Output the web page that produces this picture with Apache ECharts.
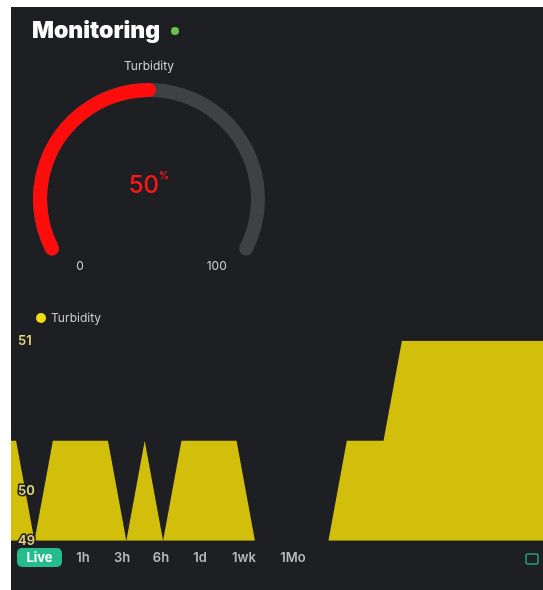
<!DOCTYPE html>
<html>
<head>
<meta charset="utf-8">
<script src="https://cdn.jsdelivr.net/npm/echarts@6/dist/echarts.min.js"></script>
<style>
  html, body { margin: 0; padding: 0; background: #ffffff; width: 543px; height: 590px; overflow: hidden; }
  #chart { position: absolute; left: 11px; top: 7px; width: 532px; height: 583px; }
</style>
</head>
<body>
<div id="chart"></div>
<script>
// ---- data ----
const gaugeName = 'Turbidity';
const gaugeValue = 50;
const gaugeMin = 0;
const gaugeMax = 100;
const seriesName = 'Turbidity';
const sampleIndex = [0,1,2,3,4,5,6,7,8,9,10,11,12,13,14,15,16,17,18,19,20,21,22,23,24,25,26,27,28,29,30];
const turbidityValues = [50,50,49,50,50,50,50,49,50,49,50,50,50,50,49,49,49,49,49,50,50,50,51,51,51,51,51,51,51,51,51];
const yTicks = [49, 50, 51];
const rangeButtons = ['Live', '1h', '3h', '6h', '1d', '1wk', '1Mo'];
const titleText = 'Monitoring';

// ---- layout (not data) ----
const buttonCenters = [28.5, 72, 111, 150, 189, 233, 282];
const font = 'Inter, "Noto Sans", sans-serif';

const chart = echarts.init(document.getElementById('chart'), null, { renderer: 'canvas' });

const buttonGraphics = [];
rangeButtons.forEach((t, i) => {
  if (i === 0) {
    buttonGraphics.push({
      type: 'rect', shape: { x: 6, y: 541, width: 45, height: 19, r: 5 },
      style: { fill: '#25bd8c' }, z: 10
    });
  }
  buttonGraphics.push({
    type: 'text', x: buttonCenters[i], y: 551, z: 11,
    style: {
      text: t, align: 'center', verticalAlign: 'middle',
      fill: i === 0 ? '#ffffff' : '#b9b9b9',
      font: (i === 0 ? '700 13px ' : '600 13px ') + font
    }
  });
});

const option = {
  backgroundColor: '#1e1f23',
  animation: false,
  graphic: [
    { type: 'text', x: 21, y: 24, z: 10,
      style: { text: titleText, fill: '#ffffff', font: '900 23px ' + font, verticalAlign: 'middle' } },
    { type: 'circle', shape: { cx: 164, cy: 24, r: 4 }, style: { fill: '#6cc24a' }, z: 10 },
    { type: 'rect', shape: { x: 515, y: 547, width: 12, height: 10, r: 2 },
      style: { fill: 'none', stroke: '#25a07a', lineWidth: 1.5 }, z: 10 }
  ].concat(buttonGraphics),
  legend: {
    left: 20, top: 300,
    icon: 'circle', itemWidth: 10, itemHeight: 10, itemGap: 8,
    textStyle: { color: '#cbcbcb', fontSize: 12, fontFamily: font },
    data: [seriesName]
  },
  grid: { left: 0, right: 0, top: 333.7, bottom: 49.3, containLabel: false },
  xAxis: {
    type: 'value', min: 0.722, max: 29.68, show: false
  },
  yAxis: {
    type: 'value', min: yTicks[0], max: yTicks[yTicks.length - 1], interval: 1,
    splitLine: { show: false }, axisLine: { show: false }, axisTick: { show: false },
    axisLabel: {
      inside: true, margin: 7,
      color: '#e2d67c', fontSize: 13, fontWeight: 600, fontFamily: font,
      textBorderColor: '#1e1f23', textBorderWidth: 3,
      formatter: function (v) {
        if (v === yTicks[1]) return '{low|' + v + '}';
        return String(v);
      },
      rich: {
        low: { padding: [100, 0, 0, 0], color: '#e2d67c', fontSize: 13, fontWeight: 600, fontFamily: font,
               textBorderColor: '#1e1f23', textBorderWidth: 3 }
      }
    },
    z: 5
  },
  series: [
    {
      name: seriesName,
      type: 'line',
      data: sampleIndex.map((x, i) => [x, turbidityValues[i]]),
      showSymbol: false, symbol: 'none',
      itemStyle: { color: '#f3dc14' },
      lineStyle: { width: 0, color: '#d2bf0c' },
      areaStyle: { color: '#d2bf0c', opacity: 1 },
      clip: true, z: 2
    },
    {
      name: gaugeName,
      type: 'gauge',
      center: [138, 192],
      radius: 116,
      startAngle: 207, endAngle: -27,
      min: gaugeMin, max: gaugeMax,
      progress: { show: true, width: 14, roundCap: true, itemStyle: { color: '#ff0d0d' } },
      axisLine: { roundCap: true, lineStyle: { width: 14, color: [[1, '#404145']] } },
      pointer: { show: false },
      axisTick: { show: false },
      splitLine: { show: false },
      axisLabel: { show: false },
      anchor: { show: false },
      title: { show: true, offsetCenter: [0, -133], color: '#cfcfcf', fontSize: 12, fontFamily: font },
      detail: {
        offsetCenter: [0, -13],
        valueAnimation: false,
        formatter: function (v) { return '{v|' + v + '}{u|%}'; },
        rich: {
          v: { fontSize: 24, color: '#ff1616', fontFamily: font, fontWeight: 500 },
          u: { fontSize: 10, color: '#ff1616', fontFamily: font, verticalAlign: 'top', padding: [0, 0, 10, 0] }
        }
      },
      data: [{ value: gaugeValue, name: gaugeName }]
    },
    {
      type: 'gauge',
      center: [138, 192],
      radius: 103,
      startAngle: 221, endAngle: -41,
      min: gaugeMin, max: gaugeMax, splitNumber: 1,
      axisLine: { show: false },
      progress: { show: false },
      pointer: { show: false },
      axisTick: { show: false },
      splitLine: { show: false, length: 0, distance: 0 },
      anchor: { show: false },
      title: { show: false },
      detail: { show: false },
      axisLabel: {
        show: true, distance: 0, color: '#cfcfcf', fontSize: 12, fontFamily: font,
        formatter: function (v) { return v === gaugeMin ? '{lo|' + v + '}' : String(v); },
        rich: { lo: { padding: [0, 0, 0, 5], color: '#cfcfcf', fontSize: 12, fontFamily: font } }
      },
      data: [{ value: gaugeValue }]
    }
  ]
};
chart.setOption(option);
</script>
</body>
</html>
